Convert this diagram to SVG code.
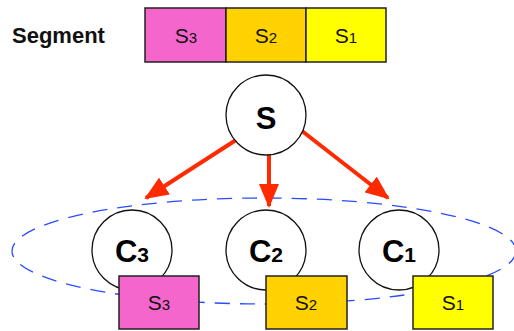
<svg xmlns="http://www.w3.org/2000/svg" width="514" height="331" viewBox="0 0 514 331">
<style>
.seg{stroke:#222;stroke-width:1.5}
.pink{fill:#f466cc}.gold{fill:#ffd200}.yel{fill:#ffff00}
.lbl{font-family:"Liberation Sans",Arial,sans-serif;font-size:21px;fill:#111;text-anchor:middle}
.sub{font-size:15px}
.node{fill:#fff;stroke:#111;stroke-width:1.3}
.big{font-family:"Liberation Sans",Arial,sans-serif;font-size:31px;font-weight:bold;fill:#000;text-anchor:middle}
.bsub{font-size:21px}
.arr{stroke:#ff2a00;stroke-width:4;fill:none;marker-end:url(#ah)}
</style>
<defs>
<marker id="ah" viewBox="0 0 24 20" refX="22" refY="10" markerWidth="24" markerHeight="20" orient="auto" markerUnits="userSpaceOnUse">
<path d="M0,0 L24,10 L0,20 z" fill="#ff2a00"/>
</marker>
</defs>
<text x="12" y="43" font-family="Liberation Sans,Arial,sans-serif" font-size="22" font-weight="bold" fill="#111">Segment</text>
<g id="segment">
<rect class="seg pink" x="145" y="8" width="81" height="54"/>
<rect class="seg gold" x="226" y="8" width="80" height="54"/>
<rect class="seg yel" x="306" y="8" width="80" height="54"/>
<text class="lbl" x="186" y="43">S<tspan class="sub">3</tspan></text>
<text class="lbl" x="266" y="43">S<tspan class="sub">2</tspan></text>
<text class="lbl" x="346" y="43">S<tspan class="sub">1</tspan></text>
</g>
<g id="group">
<ellipse cx="264" cy="251" rx="252" ry="53" fill="none" stroke="#2a4cff" stroke-width="1.3" stroke-dasharray="15,10"/>
</g>
<g id="connectors">
<line class="arr" x1="236" y1="140" x2="146" y2="198"/>
<line class="arr" x1="269" y1="154" x2="269" y2="206"/>
<line class="arr" x1="302" y1="131" x2="388" y2="198"/>
</g>
<g id="S">
<circle class="node" cx="266" cy="115" r="40"/>
<text class="big" x="266" y="129">S</text>
</g>
<g id="C3">
<circle class="node" cx="132" cy="250" r="40"/>
<text class="big" x="132" y="262">C<tspan class="bsub">3</tspan></text>
<rect class="seg pink" x="119" y="276" width="80" height="53"/>
<text class="lbl" x="159" y="310">S<tspan class="sub">3</tspan></text>
</g>
<g id="C2">
<circle class="node" cx="266" cy="250" r="40"/>
<text class="big" x="266" y="262">C<tspan class="bsub">2</tspan></text>
<rect class="seg gold" x="266" y="276" width="81" height="53"/>
<text class="lbl" x="306" y="310">S<tspan class="sub">2</tspan></text>
</g>
<g id="C1">
<circle class="node" cx="399" cy="250" r="40"/>
<text class="big" x="399" y="262">C<tspan class="bsub">1</tspan></text>
<rect class="seg yel" x="413" y="276" width="80" height="53"/>
<text class="lbl" x="453" y="310">S<tspan class="sub">1</tspan></text>
</g>
</svg>
